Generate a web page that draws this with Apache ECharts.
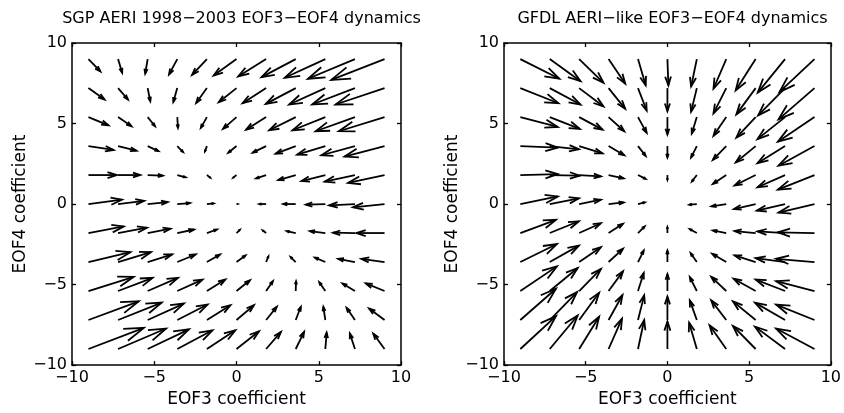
<!DOCTYPE html>
<html>
<head>
<meta charset="utf-8">
<title>EOF3-EOF4 dynamics</title>
<script src="https://cdn.jsdelivr.net/npm/echarts@6/dist/echarts.min.js"></script>
<style>
  html, body { margin: 0; padding: 0; background: #fff; }
  #chart { width: 844px; height: 413px; }
</style>
</head>
<body>
<div id="chart"></div>
<script>
// Grid of EOF3 (x) and EOF4 (y) coefficient values where the flow is sampled
const gridX = [-9, -7.2, -5.4, -3.6, -1.8, 0, 1.8, 3.6, 5.4, 7.2, 9];
const gridY = [9, 7.2, 5.4, 3.6, 1.8, 0, -1.8, -3.6, -5.4, -7.2, -9];
const axisTicks = [-10, -5, 0, 5, 10];

// SGP AERI 1998-2003: drift components (EOF3 direction), rows follow gridY, columns gridX
const sgpU = [
  [0.73, 0.25, -0.15, -0.50, -0.90, -1.39, -1.70, -2.08, -2.47, -2.86, -3.24],
  [0.98, 0.60, 0.16, -0.24, -0.65, -1.08, -1.43, -1.82, -2.20, -2.60, -2.98],
  [1.22, 0.82, 0.45, 0.04, -0.37, -0.82, -1.22, -1.61, -2.00, -2.39, -2.78],
  [1.53, 1.12, 0.65, 0.35, -0.12, -0.50, -0.82, -1.22, -1.71, -2.04, -2.43],
  [1.73, 1.35, 0.92, 0.51, 0.20, -0.20, -0.61, -1.06, -1.45, -1.84, -2.22],
  [2.04, 1.59, 1.22, 0.78, 0.41, 0.05, -0.41, -0.76, -1.18, -1.57, -1.92],
  [2.14, 1.76, 1.39, 1.02, 0.61, 0.20, -0.20, -0.55, -0.94, -1.33, -1.71],
  [2.55, 2.00, 1.49, 1.12, 0.80, 0.55, 0.14, -0.31, -0.63, -1.02, -1.41],
  [2.75, 2.10, 1.84, 1.53, 1.12, 0.82, 0.41, 0.02, -0.37, -0.76, -1.14],
  [3.06, 2.65, 2.20, 1.84, 1.43, 1.06, 0.65, 0.31, -0.12, -0.51, -0.94],
  [3.37, 2.92, 2.51, 2.14, 1.73, 1.37, 0.90, 0.51, 0.08, -0.31, -0.69]
];
// SGP AERI 1998-2003: drift components (EOF4 direction)
const sgpV = [
  [-0.76, -0.85, -0.90, -0.95, -0.98, -1.02, -1.08, -1.12, -1.16, -1.22, -1.29],
  [-0.71, -0.71, -0.82, -0.86, -0.92, -0.88, -0.94, -0.98, -1.02, -1.02, -1.02],
  [-0.51, -0.57, -0.57, -0.67, -0.67, -0.73, -0.78, -0.82, -0.82, -0.88, -0.88],
  [-0.24, -0.29, -0.31, -0.37, -0.33, -0.41, -0.41, -0.47, -0.53, -0.57, -0.65],
  [0.00, 0.00, -0.04, -0.14, -0.16, -0.16, -0.20, -0.31, -0.37, -0.41, -0.49],
  [0.27, 0.20, 0.12, 0.06, 0.04, 0.00, 0.00, 0.00, -0.04, -0.08, -0.20],
  [0.41, 0.33, 0.27, 0.22, 0.22, 0.20, 0.16, 0.12, 0.12, 0.02, 0.00],
  [0.61, 0.61, 0.47, 0.47, 0.47, 0.41, 0.35, 0.31, 0.27, 0.20, 0.20],
  [0.88, 0.82, 0.82, 0.71, 0.71, 0.67, 0.61, 0.61, 0.55, 0.47, 0.47],
  [1.16, 1.08, 1.02, 0.96, 0.92, 0.92, 0.82, 0.82, 0.82, 0.76, 0.71],
  [1.31, 1.27, 1.22, 1.16, 1.16, 1.10, 1.06, 1.06, 1.02, 0.96, 0.96]
];

// GFDL AERI-like: drift components (EOF3 direction)
const gfdlU = [
  [2.39, 1.88, 1.49, 1.02, 0.47, 0.06, -0.35, -0.78, -1.22, -1.67, -2.14],
  [2.33, 1.88, 1.49, 1.02, 0.53, 0.00, -0.35, -0.78, -1.18, -1.65, -2.20],
  [2.29, 1.84, 1.43, 0.96, 0.53, 0.00, -0.31, -0.78, -1.18, -1.69, -2.24],
  [2.29, 1.78, 1.43, 0.96, 0.47, 0.00, -0.35, -0.82, -1.22, -1.69, -2.20],
  [2.29, 1.84, 1.33, 0.92, 0.47, 0.00, -0.30, -0.82, -1.29, -1.69, -2.24],
  [2.29, 1.78, 1.33, 0.92, 0.41, 0.00, -0.45, -0.90, -1.33, -1.73, -2.20],
  [2.18, 1.78, 1.33, 0.88, 0.41, 0.00, -0.43, -0.82, -1.29, -1.69, -2.24],
  [2.24, 1.78, 1.33, 0.88, 0.35, 0.00, -0.38, -0.86, -1.29, -1.80, -2.35],
  [2.24, 1.71, 1.33, 0.88, 0.35, 0.00, -0.43, -0.92, -1.35, -1.80, -2.35],
  [2.18, 1.67, 1.22, 0.85, 0.38, 0.00, -0.43, -0.92, -1.39, -1.84, -2.35],
  [2.18, 1.71, 1.22, 0.82, 0.38, 0.00, -0.47, -1.02, -1.39, -1.84, -2.35]
];
// GFDL AERI-like: drift components (EOF4 direction)
const gfdlV = [
  [-1.22, -1.37, -1.47, -1.53, -1.63, -1.63, -1.70, -1.84, -1.94, -2.08, -2.04],
  [-0.94, -1.02, -1.14, -1.29, -1.39, -1.43, -1.47, -1.57, -1.63, -1.70, -1.94],
  [-0.61, -0.73, -0.78, -0.88, -0.98, -1.08, -1.02, -1.16, -1.27, -1.37, -1.53],
  [-0.10, -0.20, -0.45, -0.57, -0.61, -0.71, -0.70, -0.86, -1.02, -1.06, -1.22],
  [0.06, -0.04, -0.08, -0.20, -0.24, -0.30, -0.40, -0.55, -0.65, -0.76, -0.90],
  [0.47, 0.35, 0.27, 0.10, 0.10, 0.00, -0.04, -0.14, -0.31, -0.41, -0.53],
  [0.82, 0.73, 0.61, 0.57, 0.41, 0.37, 0.24, 0.16, 0.12, 0.10, 0.04],
  [1.12, 1.02, 0.92, 0.82, 0.71, 0.71, 0.55, 0.51, 0.41, 0.24, 0.20],
  [1.53, 1.43, 1.37, 1.22, 1.12, 1.05, 0.86, 0.88, 0.76, 0.71, 0.61],
  [1.94, 1.73, 1.69, 1.55, 1.53, 1.45, 1.22, 1.22, 1.16, 1.08, 0.96],
  [2.04, 2.08, 2.00, 1.88, 1.80, 1.70, 1.63, 1.47, 1.43, 1.39, 1.27]
];

const FONT = '"DejaVu Sans", Verdana, sans-serif';

// Flatten a component table into [x, y, u, v] records
function quiverData(U, V) {
  const out = [];
  gridY.forEach((y, r) => {
    gridX.forEach((x, c) => {
      out.push([x, y, U[r][c], V[r][c]]);
    });
  });
  return out;
}

// Arrow with an open head, in the style of a classic quiver plot
function renderArrow(params, api) {
  const x = api.value(0), y = api.value(1), u = api.value(2), v = api.value(3);
  const alpha = 0.33, beta = 0.33;
  const tail = api.coord([x, y]);
  const tip = api.coord([x + u, y + v]);
  const b1 = api.coord([x + u - alpha * (u + beta * v), y + v - alpha * (v - beta * u)]);
  const b2 = api.coord([x + u - alpha * (u - beta * v), y + v - alpha * (v + beta * u)]);
  const style = { stroke: '#000', lineWidth: 1.8, fill: null, lineJoin: 'miter' };
  return {
    type: 'group',
    children: [
      { type: 'polyline', shape: { points: [tail, tip] }, style: style },
      { type: 'polyline', shape: { points: [b1, tip, b2] }, style: style }
    ]
  };
}

const gridBoxes = [
  { left: 72, top: 43, width: 329, height: 326 },
  { left: 504, top: 43, width: 327, height: 326 }
];
const titles = [
  'SGP AERI 1998\u22122003 EOF3\u2212EOF4 dynamics',
  'GFDL AERI\u2212like EOF3\u2212EOF4 dynamics'
];

function tickLabel(val) {
  return val < 0 ? '\u2212' + Math.abs(val) : String(val);
}

const axisBase = {
  min: axisTicks[0],
  max: axisTicks[axisTicks.length - 1],
  interval: axisTicks[1] - axisTicks[0],
  splitLine: { show: false },
  axisLine: { onZero: false, lineStyle: { color: '#000', width: 1.5 } },
  axisTick: { inside: true, length: 4, lineStyle: { color: '#000', width: 1.3 } }
};

const xAxes = [], yAxes = [];
gridBoxes.forEach((g, i) => {
  xAxes.push(Object.assign({}, axisBase, {
    type: 'value', gridIndex: i, position: 'bottom',
    name: 'EOF3 coefficient', nameLocation: 'middle', nameGap: 23,
    nameTextStyle: { color: '#000', fontSize: 17, fontFamily: FONT },
    axisLabel: { color: '#000', fontSize: 16, fontFamily: FONT, margin: 5, formatter: tickLabel }
  }));
  xAxes.push(Object.assign({}, axisBase, {
    type: 'value', gridIndex: i, position: 'top', axisLabel: { show: false }
  }));
  yAxes.push(Object.assign({}, axisBase, {
    type: 'value', gridIndex: i, position: 'left',
    name: 'EOF4 coefficient', nameLocation: 'middle', nameGap: 43, nameRotate: 90,
    nameTextStyle: { color: '#000', fontSize: 17, fontFamily: FONT },
    axisLabel: { color: '#000', fontSize: 16, fontFamily: FONT, margin: 5, formatter: tickLabel }
  }));
  yAxes.push(Object.assign({}, axisBase, {
    type: 'value', gridIndex: i, position: 'right', axisLabel: { show: false }
  }));
});

const chart = echarts.init(document.getElementById('chart'), null, { renderer: 'canvas' });
chart.setOption({
  animation: false,
  backgroundColor: '#fff',
  title: gridBoxes.map((g, i) => ({
    text: titles[i],
    left: g.left + g.width / 2,
    textAlign: 'center',
    top: 6,
    textStyle: { color: '#000', fontSize: 16, fontWeight: 'normal', fontFamily: FONT }
  })),
  grid: gridBoxes.map(g => Object.assign({ containLabel: false }, g)),
  xAxis: xAxes,
  yAxis: yAxes,
  series: [
    {
      type: 'custom', name: 'SGP', xAxisIndex: 0, yAxisIndex: 0,
      clip: false, renderItem: renderArrow,
      encode: { x: 0, y: 1 },
      data: quiverData(sgpU, sgpV)
    },
    {
      type: 'custom', name: 'GFDL', xAxisIndex: 2, yAxisIndex: 2,
      clip: false, renderItem: renderArrow,
      encode: { x: 0, y: 1 },
      data: quiverData(gfdlU, gfdlV)
    }
  ]
});
</script>
</body>
</html>
